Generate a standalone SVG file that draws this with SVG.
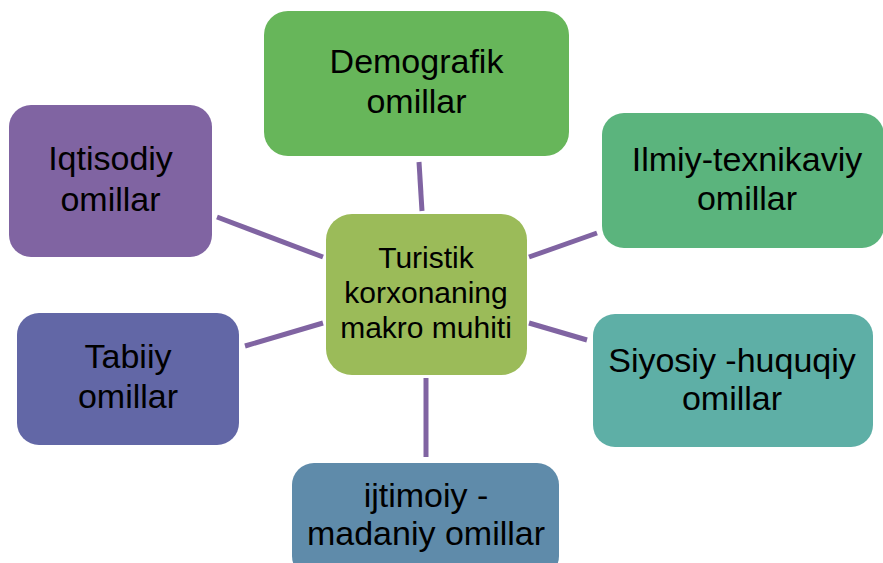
<svg xmlns="http://www.w3.org/2000/svg" width="883" height="563" viewBox="0 0 883 563">
  <style>
    .lbl { font-family: "Liberation Sans", Arial, sans-serif; font-size: 34px; fill: #000; text-anchor: middle; }
    .hub { font-size: 30px; }
    .link { stroke: #8064A2; stroke-width: 5; fill: none; }
  </style>
  <rect width="883" height="563" fill="#fff"/>

  <!-- connectors from the hub to each factor -->
  <g id="connectors">
    <line class="link" x1="419" y1="162" x2="422" y2="211"/>
    <line class="link" x1="217" y1="217" x2="323" y2="257"/>
    <line class="link" x1="529" y1="257" x2="597" y2="233"/>
    <line class="link" x1="245" y1="346" x2="323" y2="323"/>
    <line class="link" x1="529" y1="323" x2="587" y2="340"/>
    <line class="link" x1="426" y1="378" x2="426" y2="457"/>
  </g>

  <g id="hub">
    <rect x="326" y="214" width="201" height="161" rx="26" fill="#9BBB59"/>
    <text class="lbl hub" x="426" y="268">Turistik</text>
    <text class="lbl hub" x="426" y="303">korxonaning</text>
    <text class="lbl hub" x="426" y="338">makro muhiti</text>
  </g>

  <g id="demografik">
    <rect x="264" y="11" width="305" height="145" rx="24" fill="#67B65A"/>
    <text class="lbl" x="416.5" y="73">Demografik</text>
    <text class="lbl" x="416.5" y="113">omillar</text>
  </g>

  <g id="iqtisodiy">
    <rect x="9" y="105" width="203" height="152" rx="22" fill="#8064A2"/>
    <text class="lbl" x="110.5" y="170">Iqtisodiy</text>
    <text class="lbl" x="110.5" y="211">omillar</text>
  </g>

  <g id="ilmiy">
    <rect x="602" y="113" width="282" height="135" rx="22" fill="#5BB47D"/>
    <text class="lbl" x="747" y="171">Ilmiy-texnikaviy</text>
    <text class="lbl" x="747" y="210">omillar</text>
  </g>

  <g id="tabiiy">
    <rect x="17" y="313" width="222" height="132" rx="22" fill="#6267A6"/>
    <text class="lbl" x="128" y="368">Tabiiy</text>
    <text class="lbl" x="128" y="408">omillar</text>
  </g>

  <g id="siyosiy">
    <rect x="593" y="314" width="280" height="133" rx="22" fill="#5EAFA6"/>
    <text class="lbl" x="732" y="372">Siyosiy -huquqiy</text>
    <text class="lbl" x="732" y="410">omillar</text>
  </g>

  <g id="ijtimoiy">
    <rect x="292" y="463" width="267" height="115" rx="22" fill="#5F8BAA"/>
    <text class="lbl" x="426" y="507">ijtimoiy -</text>
    <text class="lbl" x="426" y="545">madaniy omillar</text>
  </g>
</svg>
